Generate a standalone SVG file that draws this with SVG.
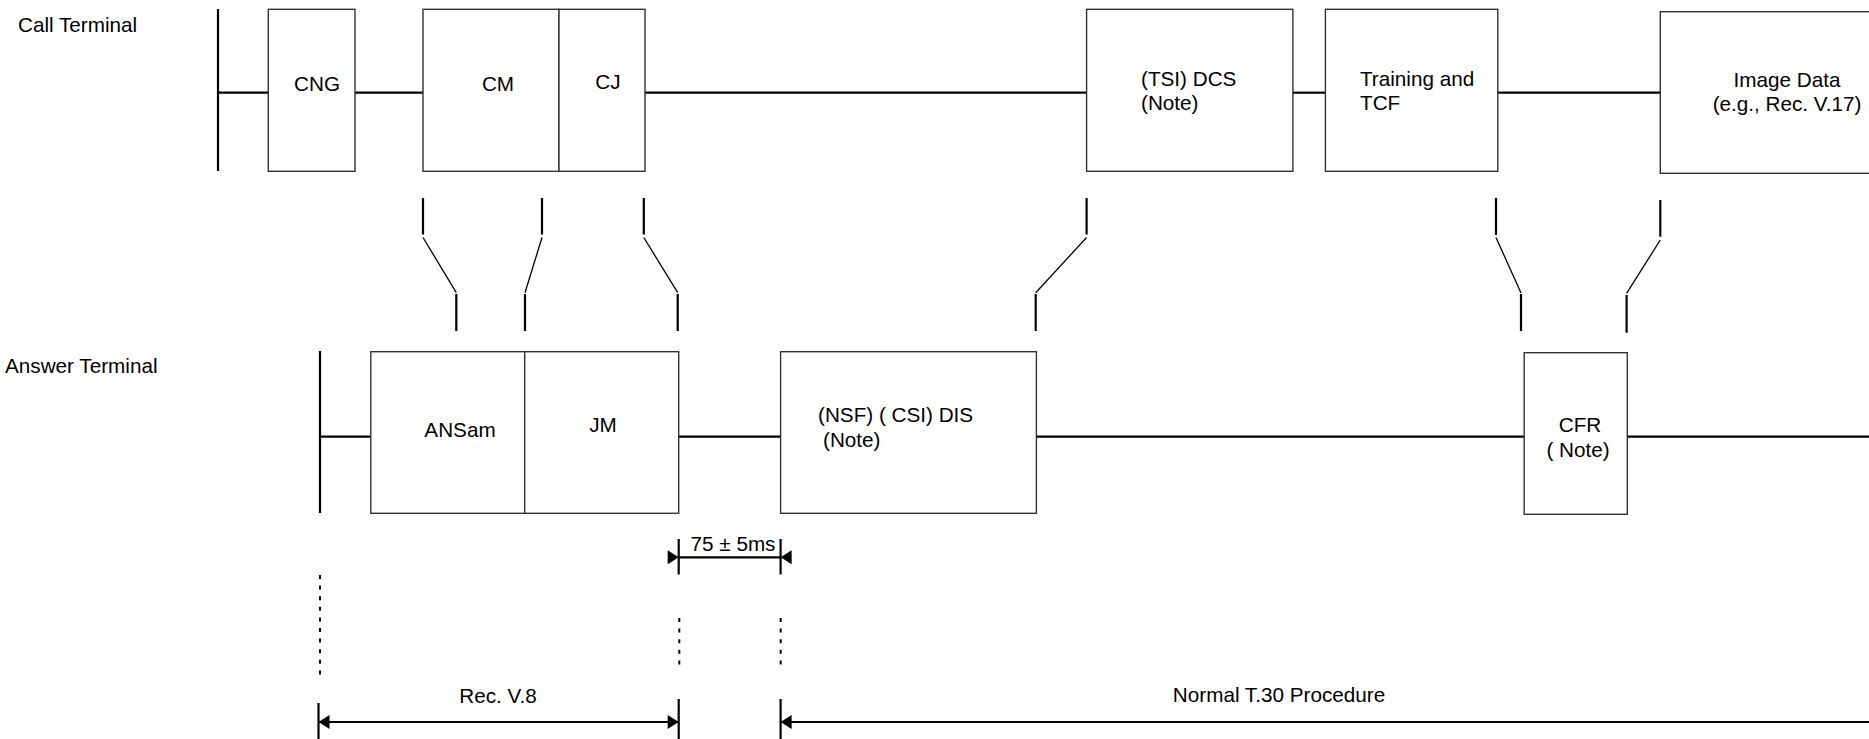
<svg xmlns="http://www.w3.org/2000/svg" width="1869" height="739" viewBox="0 0 1869 739">
<style>
text{font-family:"Liberation Sans",Arial,sans-serif;font-size:20.7px;fill:#000}
.m{text-anchor:middle}
.box{fill:#fff;stroke:#333;stroke-width:1.4}
.ln{stroke:#000;stroke-width:2.2;fill:none}
.sl{stroke:#000;stroke-width:1.3;fill:none}
.dot{stroke:#000;stroke-width:2;stroke-dasharray:4 6.6;fill:none}
</style>
<defs>
<path id="ah" d="M0,0 L-11,-7 L-11,7 Z" fill="#000"/>
</defs>
<rect width="1869" height="739" fill="#fff"/>
<g id="labels">
<text x="18" y="32">Call Terminal</text>
<text x="5" y="373">Answer Terminal</text>
</g>
<g id="connectors">
<line class="ln" x1="218" y1="9" x2="218" y2="171"/>
<line class="ln" x1="218" y1="92.7" x2="268" y2="92.7"/>
<line class="ln" x1="355" y1="92.7" x2="423" y2="92.7"/>
<line class="ln" x1="645" y1="92.7" x2="1087" y2="92.7"/>
<line class="ln" x1="1293" y1="92.7" x2="1325" y2="92.7"/>
<line class="ln" x1="1498" y1="92.7" x2="1660" y2="92.7"/>
<line class="ln" x1="320" y1="351" x2="320" y2="513"/>
<line class="ln" x1="320" y1="436.7" x2="371" y2="436.7"/>
<line class="ln" x1="679" y1="436.7" x2="781" y2="436.7"/>
<line class="ln" x1="1036" y1="436.7" x2="1524" y2="436.7"/>
<line class="ln" x1="1627" y1="436.7" x2="1869" y2="436.7"/>
<line class="ln" x1="423" y1="198" x2="423" y2="234.5"/>
<line class="sl" x1="423" y1="237.5" x2="456.3" y2="292.7"/>
<line class="ln" x1="456.3" y1="294" x2="456.3" y2="331"/>
<line class="ln" x1="542" y1="198" x2="542" y2="234.5"/>
<line class="sl" x1="542" y1="237.5" x2="525" y2="292.7"/>
<line class="ln" x1="525" y1="294" x2="525" y2="331"/>
<line class="ln" x1="643.8" y1="198" x2="643.8" y2="234.5"/>
<line class="sl" x1="643.8" y1="237.5" x2="677.7" y2="292.7"/>
<line class="ln" x1="677.7" y1="294" x2="677.7" y2="331"/>
<line class="ln" x1="1086.6" y1="198" x2="1086.6" y2="234.5"/>
<line class="sl" x1="1086.6" y1="237.5" x2="1035.7" y2="292.7"/>
<line class="ln" x1="1035.7" y1="294" x2="1035.7" y2="331"/>
<line class="ln" x1="1496" y1="198" x2="1496" y2="235"/>
<line class="sl" x1="1496" y1="237.5" x2="1521" y2="293"/>
<line class="ln" x1="1521" y1="294" x2="1521" y2="331"/>
<line class="ln" x1="1660.3" y1="200" x2="1660.3" y2="236.7"/>
<line class="sl" x1="1660.3" y1="240" x2="1626.6" y2="293.3"/>
<line class="ln" x1="1626.6" y1="295" x2="1626.6" y2="332.7"/>
<line class="ln" x1="678.7" y1="539" x2="678.7" y2="574.5"/>
<line class="ln" x1="780.6" y1="539" x2="780.6" y2="574.5"/>
<line class="ln" x1="678.7" y1="557.3" x2="780.6" y2="557.3"/>
<use href="#ah" transform="translate(678.7 557.3)"/>
<use href="#ah" transform="translate(780.6 557.3) rotate(180)"/>
<line class="dot" x1="320" y1="575" x2="320" y2="676"/>
<line class="dot" x1="679.3" y1="618" x2="679.3" y2="667"/>
<line class="dot" x1="780.7" y1="618" x2="780.7" y2="667"/>
<line class="ln" x1="318.5" y1="703" x2="318.5" y2="739"/>
<line class="ln" x1="678.7" y1="699" x2="678.7" y2="739"/>
<line class="ln" x1="318.5" y1="722" x2="678.7" y2="722"/>
<use href="#ah" transform="translate(318.5 722) rotate(180)"/>
<use href="#ah" transform="translate(678.7 722)"/>
<line class="ln" x1="780.6" y1="699" x2="780.6" y2="739"/>
<line class="ln" x1="780.6" y1="722" x2="1869" y2="722"/>
<use href="#ah" transform="translate(780.6 722) rotate(180)"/>
</g>
<g id="node-cng">
<rect class="box" x="268.3" y="9.3" width="86.7" height="162"/>
<text class="m" x="317" y="91">CNG</text>
</g>
<g id="node-cm">
<rect class="box" x="423" y="9.3" width="136" height="162"/>
<text class="m" x="498" y="91">CM</text>
</g>
<g id="node-cj">
<rect class="box" x="559" y="9.3" width="86" height="162"/>
<text class="m" x="608" y="89">CJ</text>
</g>
<g id="node-dcs">
<rect class="box" x="1086.6" y="9.3" width="206.3" height="162"/>
<text x="1141" y="86">(TSI) DCS</text>
<text x="1141" y="110">(Note)</text>
</g>
<g id="node-tcf">
<rect class="box" x="1325.4" y="9.3" width="172.4" height="162"/>
<text x="1360" y="86">Training and</text>
<text x="1360" y="110">TCF</text>
</g>
<g id="node-image">
<rect class="box" x="1660.3" y="11.7" width="220" height="161.6"/>
<text class="m" x="1787" y="87">Image Data</text>
<text class="m" x="1787" y="111">(e.g., Rec. V.17)</text>
</g>
<g id="node-ansam">
<rect class="box" x="370.8" y="351.7" width="153.9" height="161.6"/>
<text class="m" x="460" y="437">ANSam</text>
</g>
<g id="node-jm">
<rect class="box" x="524.7" y="351.7" width="154" height="161.6"/>
<text class="m" x="603" y="432">JM</text>
</g>
<g id="node-dis">
<rect class="box" x="780.6" y="351.7" width="255.8" height="161.6"/>
<text x="818" y="422">(NSF) ( CSI) DIS</text>
<text x="823" y="447">(Note)</text>
</g>
<g id="node-cfr">
<rect class="box" x="1524.2" y="352.7" width="103.1" height="161.6"/>
<text class="m" x="1580" y="432">CFR</text>
<text class="m" x="1578" y="457">( Note)</text>
</g>
<g id="dim-labels">
<text class="m" x="733" y="551">75 ± 5ms</text>
<text class="m" x="498" y="703">Rec. V.8</text>
<text class="m" x="1279" y="702">Normal T.30 Procedure</text>
</g>
</svg>
